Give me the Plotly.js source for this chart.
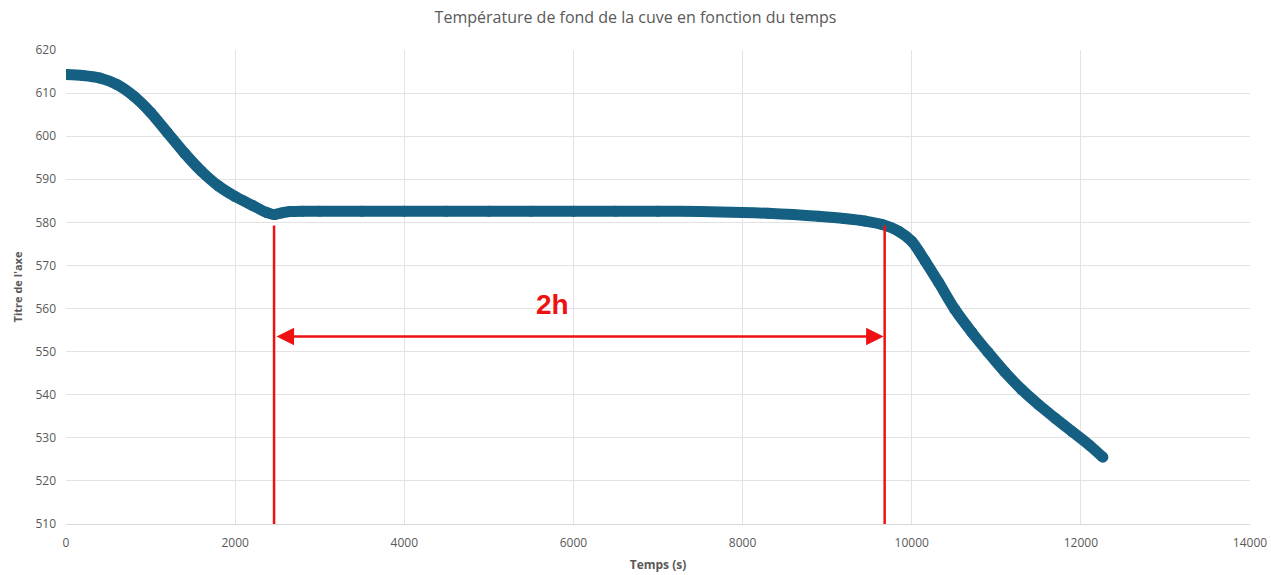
<!DOCTYPE html>
<html>
<head>
<meta charset="utf-8">
<script src="https://cdn.plot.ly/plotly-3.0.1.min.js"></script>
<style>html,body{margin:0;padding:0;background:#fff;}#chart{width:1271px;height:575px;}</style>
</head>
<body>
<div id="chart"></div>
<script>
// Time (s)
var timeS = [0, 200, 400, 600, 800, 1000, 1200, 1400, 1600, 1800, 2000, 2200, 2370, 2460, 2550, 2650, 2800, 3000, 3500, 4000, 4500, 5000, 5500, 6000, 6500, 7000, 7500, 8000, 8300, 8600, 8900, 9200, 9450, 9650, 9850, 10000, 10160, 10320, 10510, 10710, 10900, 11100, 11300, 11500, 11700, 11900, 12100, 12260];
// Bottom temperature
var tempC = [614.3, 614.1, 613.5, 612.0, 609.3, 605.5, 600.8, 596.1, 591.9, 588.5, 586.0, 584.0, 582.3, 581.8, 582.2, 582.5, 582.6, 582.6, 582.6, 582.6, 582.6, 582.6, 582.6, 582.6, 582.6, 582.6, 582.5, 582.3, 582.1, 581.8, 581.4, 580.9, 580.3, 579.5, 577.9, 575.6, 571.0, 566.0, 559.8, 554.5, 549.9, 545.3, 541.2, 537.7, 534.5, 531.4, 528.3, 525.5];

// Annotation values
var plateauStart = 2460;
var plateauEnd = 9680;
var markerTop = 579.3;
var arrowY = 553.5;
var durationLabel = "2h";
var labelX = 5750;
var labelY = 561;

var xTicks = [0, 2000, 4000, 6000, 8000, 10000, 12000, 14000];
var yTicks = [510, 520, 530, 540, 550, 560, 570, 580, 590, 600, 610, 620];

var gray = '#595959';
var fontFam = 'Open Sans, Noto Sans, Arial, sans-serif';

var trace = {
  x: timeS, y: tempC, type: 'scatter', mode: 'lines+markers',
  line: {color: '#156082', width: 11, shape: 'spline', smoothing: 0.8},
  marker: {color: '#156082', size: 11},
  hoverinfo: 'x+y', showlegend: false
};

var layout = {
  width: 1271, height: 575,
  margin: {l: 66, r: 21, t: 50, b: 51},
  paper_bgcolor: '#ffffff', plot_bgcolor: '#ffffff',
  title: {text: 'Température de fond de la cuve en fonction du temps',
          font: {family: fontFam, size: 16, color: gray}, x: 0.5, xanchor: 'center', y: 0.97, yanchor: 'middle'},
  xaxis: {
    range: [0, 14000], tickvals: xTicks, ticktext: xTicks.map(String),
    showgrid: true, gridcolor: '#e3e3e3', gridwidth: 1, zeroline: false,
    showline: true, linecolor: '#d9d9d9', linewidth: 1,
    tickfont: {family: fontFam, size: 12, color: gray}, ticks: '', ticklabelstandoff: 8,
    title: {text: 'Temps (s)', font: {family: fontFam, size: 12, color: gray, weight: 'bold'}, standoff: 10}
  },
  yaxis: {
    range: [510, 620], tickvals: yTicks, ticktext: yTicks.map(String),
    showgrid: true, gridcolor: '#e3e3e3', gridwidth: 1, zeroline: false,
    showline: false,
    tickfont: {family: fontFam, size: 12, color: gray}, ticks: '', ticklabelstandoff: 9,
    title: {text: "Titre de l'axe", font: {family: fontFam, size: 11, color: gray, weight: 'bold'}, standoff: 10}
  },
  shapes: [
    {type: 'line', xref: 'x', yref: 'y', x0: plateauStart, x1: plateauStart, y0: 510, y1: markerTop, line: {color: '#ee1111', width: 2.5}},
    {type: 'line', xref: 'x', yref: 'y', x0: plateauEnd, x1: plateauEnd, y0: 510, y1: markerTop, line: {color: '#ee1111', width: 2.5}}
  ],
  annotations: [
    {x: plateauEnd, y: arrowY, ax: plateauStart, ay: arrowY, xref: 'x', yref: 'y', axref: 'x', ayref: 'y',
     text: '', showarrow: true, arrowside: 'end+start', arrowhead: 2, arrowsize: 1.4, arrowwidth: 2.5, arrowcolor: '#ee1111',
     standoff: 1, startstandoff: 1},
    {x: labelX, y: labelY, xref: 'x', yref: 'y', text: '<b>' + durationLabel + '</b>', showarrow: false,
     font: {family: 'Liberation Sans, Arial, sans-serif', size: 28, color: '#ee1111'}}
  ]
};

Plotly.newPlot('chart', [trace], layout, {displayModeBar: false, responsive: false});
</script>
</body>
</html>
